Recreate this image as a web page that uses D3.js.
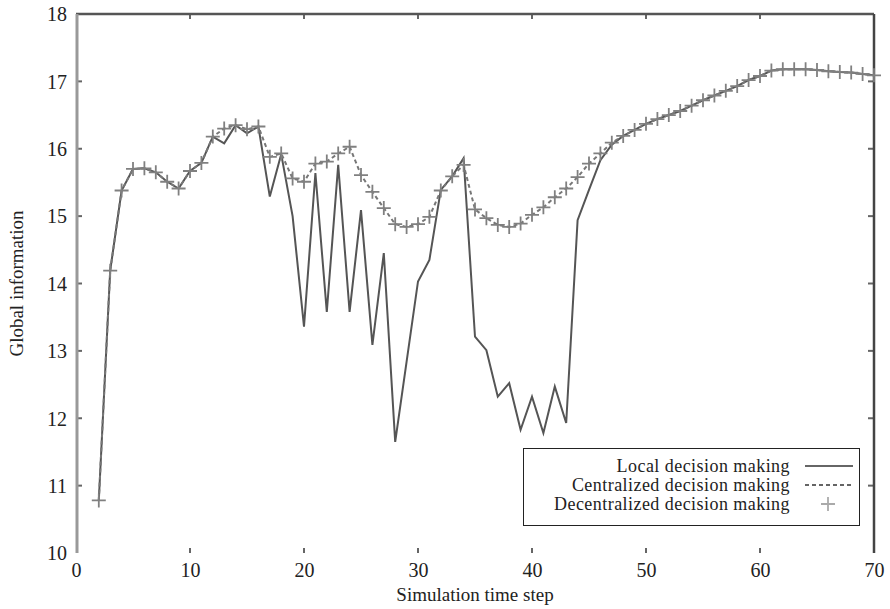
<!DOCTYPE html>
<html>
<head>
<meta charset="utf-8">
<script src="https://cdn.jsdelivr.net/npm/d3@7"></script>
<style>
  body { margin: 0; background: #fff; }
  svg text { font-family: "Liberation Serif", "Times New Roman", serif; fill: #222; }
</style>
</head>
<body>
<div id="chart"></div>
<script>
// values, time steps 2..70
var steps = d3.range(2, 71);

var localValues = [10.78, 14.19, 15.38, 15.70, 15.71, 15.65, 15.51, 15.41, 15.67, 15.79,
  16.18, 16.08, 16.35, 16.23, 16.33, 15.29, 15.92, 15.00, 13.36, 15.64,
  13.58, 15.76, 13.58, 15.09, 13.09, 14.45, 11.65, 12.84, 14.03, 14.35,
  15.39, 15.59, 15.86, 13.21, 13.01, 12.32, 12.52, 11.83, 12.32, 11.78,
  12.47, 11.93, 14.94, 15.39, 15.83, 16.06, 16.19, 16.28, 16.37, 16.44,
  16.50, 16.56, 16.64, 16.72, 16.79, 16.86, 16.93, 17.02, 17.08, 17.16,
  17.18, 17.18, 17.18, 17.17, 17.15, 17.14, 17.13, 17.11, 17.09];

var centralizedValues = [10.78, 14.19, 15.38, 15.70, 15.71, 15.65, 15.51, 15.41, 15.67, 15.79,
  16.18, 16.30, 16.35, 16.29, 16.33, 15.88, 15.93, 15.56, 15.51, 15.78,
  15.81, 15.93, 16.03, 15.61, 15.36, 15.12, 14.88, 14.84, 14.88, 14.99,
  15.38, 15.59, 15.76, 15.10, 14.97, 14.87, 14.84, 14.89, 15.02, 15.13,
  15.28, 15.41, 15.58, 15.78, 15.93, 16.09, 16.19, 16.28, 16.37, 16.44,
  16.50, 16.56, 16.64, 16.72, 16.79, 16.86, 16.93, 17.02, 17.08, 17.16,
  17.18, 17.18, 17.18, 17.17, 17.15, 17.14, 17.13, 17.11, 17.09];

var decentralizedValues = [10.78, 14.19, 15.38, 15.70, 15.71, 15.65, 15.51, 15.41, 15.67, 15.79,
  16.18, 16.30, 16.35, 16.29, 16.33, 15.88, 15.93, 15.56, 15.51, 15.78,
  15.81, 15.93, 16.03, 15.61, 15.36, 15.12, 14.88, 14.84, 14.88, 14.99,
  15.38, 15.59, 15.76, 15.10, 14.97, 14.87, 14.84, 14.89, 15.02, 15.13,
  15.28, 15.41, 15.58, 15.78, 15.93, 16.09, 16.19, 16.28, 16.37, 16.44,
  16.50, 16.56, 16.64, 16.72, 16.79, 16.86, 16.93, 17.02, 17.08, 17.16,
  17.18, 17.18, 17.18, 17.17, 17.15, 17.14, 17.13, 17.11, 17.09];

var seriesNames = ["Local decision making", "Centralized decision making", "Decentralized decision making"];
var xTicks = [0, 10, 20, 30, 40, 50, 60, 70];
var yTicks = [10, 11, 12, 13, 14, 15, 16, 17, 18];

// hardcoded layout
var W = 890, H = 609;
var margin = {top: 14, right: 16, bottom: 56, left: 76};
var width = W - margin.left - margin.right,
    height = H - margin.top - margin.bottom;

var svg = d3.select("#chart").append("svg")
    .attr("width", W)
    .attr("height", H);

var g = svg.append("g")
    .attr("transform", "translate(" + margin.left + "," + margin.top + ")");

var x = d3.scaleLinear().domain([0, 70]).range([0, width]);
var y = d3.scaleLinear().domain([10, 18]).range([height, 0]);

// axes with labels (bottom, left) and inner tick marks on all sides
var xAxis = g.append("g")
    .attr("transform", "translate(0," + height + ")")
    .call(d3.axisBottom(x).tickValues(xTicks).tickSize(0).tickPadding(10));
var yAxis = g.append("g")
    .call(d3.axisLeft(y).tickValues(yTicks).tickSize(0).tickPadding(9));
[xAxis, yAxis].forEach(function(a) {
  a.select(".domain").remove();
  a.selectAll("text").attr("font-size", 20).attr("font-family", "Liberation Serif, serif").attr("fill", "#222");
});
yAxis.selectAll("text").attr("dy", "0.34em");

var innerX = xTicks.slice(1, -1), innerY = yTicks.slice(1, -1);
var tk = g.append("g").attr("stroke", "#666").attr("stroke-width", 2);
innerX.forEach(function(v) {
  tk.append("line").attr("x1", x(v)).attr("x2", x(v)).attr("y1", 0).attr("y2", 5);
  tk.append("line").attr("x1", x(v)).attr("x2", x(v)).attr("y1", height).attr("y2", height - 5);
});
innerY.forEach(function(v) {
  tk.append("line").attr("x1", 0).attr("x2", 6).attr("y1", y(v)).attr("y2", y(v));
  tk.append("line").attr("x1", width).attr("x2", width - 6).attr("y1", y(v)).attr("y2", y(v));
});

// frame: top, right, left (bottom edge is not visible in the original)
g.append("line").attr("x1", 0).attr("x2", width).attr("y1", 0).attr("y2", 0)
  .attr("stroke", "#555").attr("stroke-width", 2.5);
g.append("line").attr("x1", width).attr("x2", width).attr("y1", 0).attr("y2", height)
  .attr("stroke", "#444").attr("stroke-width", 2.5);
g.append("line").attr("x1", 1).attr("x2", 1).attr("y1", 0).attr("y2", height)
  .attr("stroke", "#999").attr("stroke-width", 3);

function toPoints(vals) {
  return steps.map(function(s, i) { return {x: s, y: vals[i]}; });
}
var line = d3.line().x(function(d) { return x(d.x); }).y(function(d) { return y(d.y); });

// local decision making
g.append("path")
  .datum(toPoints(localValues))
  .attr("d", line)
  .attr("fill", "none")
  .attr("stroke", "#555")
  .attr("stroke-width", 2);

// centralized (dashed)
g.append("path")
  .datum(toPoints(centralizedValues))
  .attr("d", line)
  .attr("fill", "none")
  .attr("stroke", "#777")
  .attr("stroke-width", 2)
  .attr("stroke-dasharray", "4,3");

// decentralized (plus markers)
var plus = d3.symbol().type(d3.symbolCross);
function plusPath(s) {
  return "M" + (-s) + ",0H" + s + "M0," + (-s) + "V" + s;
}
g.append("g").selectAll("path.plus")
  .data(toPoints(decentralizedValues))
  .enter().append("path")
  .attr("class", "plus")
  .attr("transform", function(d) { return "translate(" + x(d.x) + "," + y(d.y) + ")"; })
  .attr("d", plusPath(7))
  .attr("stroke", "#808080")
  .attr("stroke-width", 1.8)
  .attr("fill", "none");

// axis titles
svg.append("text")
  .attr("x", margin.left + width / 2)
  .attr("y", 601)
  .attr("text-anchor", "middle")
  .attr("font-size", 19)
  .text("Simulation time step");

svg.append("text")
  .attr("transform", "translate(23," + (margin.top + height / 2) + ") rotate(-90)")
  .attr("text-anchor", "middle")
  .attr("font-size", 19)
  .text("Global information");

// legend
var lg = svg.append("g");
lg.append("rect")
  .attr("x", 523.5).attr("y", 448.5)
  .attr("width", 336).attr("height", 77)
  .attr("fill", "#fff")
  .attr("stroke", "#222")
  .attr("stroke-width", 1);

var rowY = [466, 485, 504];
seriesNames.forEach(function(name, i) {
  lg.append("text")
    .attr("x", 790)
    .attr("y", rowY[i])
    .attr("dy", "0.33em")
    .attr("text-anchor", "end")
    .attr("font-size", 18)
    .attr("letter-spacing", 0.45)
    .text(name);
});
lg.append("line").attr("x1", 805).attr("x2", 853).attr("y1", rowY[0]).attr("y2", rowY[0])
  .attr("stroke", "#333").attr("stroke-width", 1.6);
lg.append("line").attr("x1", 805).attr("x2", 853).attr("y1", rowY[1]).attr("y2", rowY[1])
  .attr("stroke", "#333").attr("stroke-width", 1.6).attr("stroke-dasharray", "4,3");
lg.append("path")
  .attr("transform", "translate(828," + rowY[2] + ")")
  .attr("d", plusPath(7))
  .attr("stroke", "#aaa").attr("stroke-width", 1.8).attr("fill", "none");
</script>
</body>
</html>
